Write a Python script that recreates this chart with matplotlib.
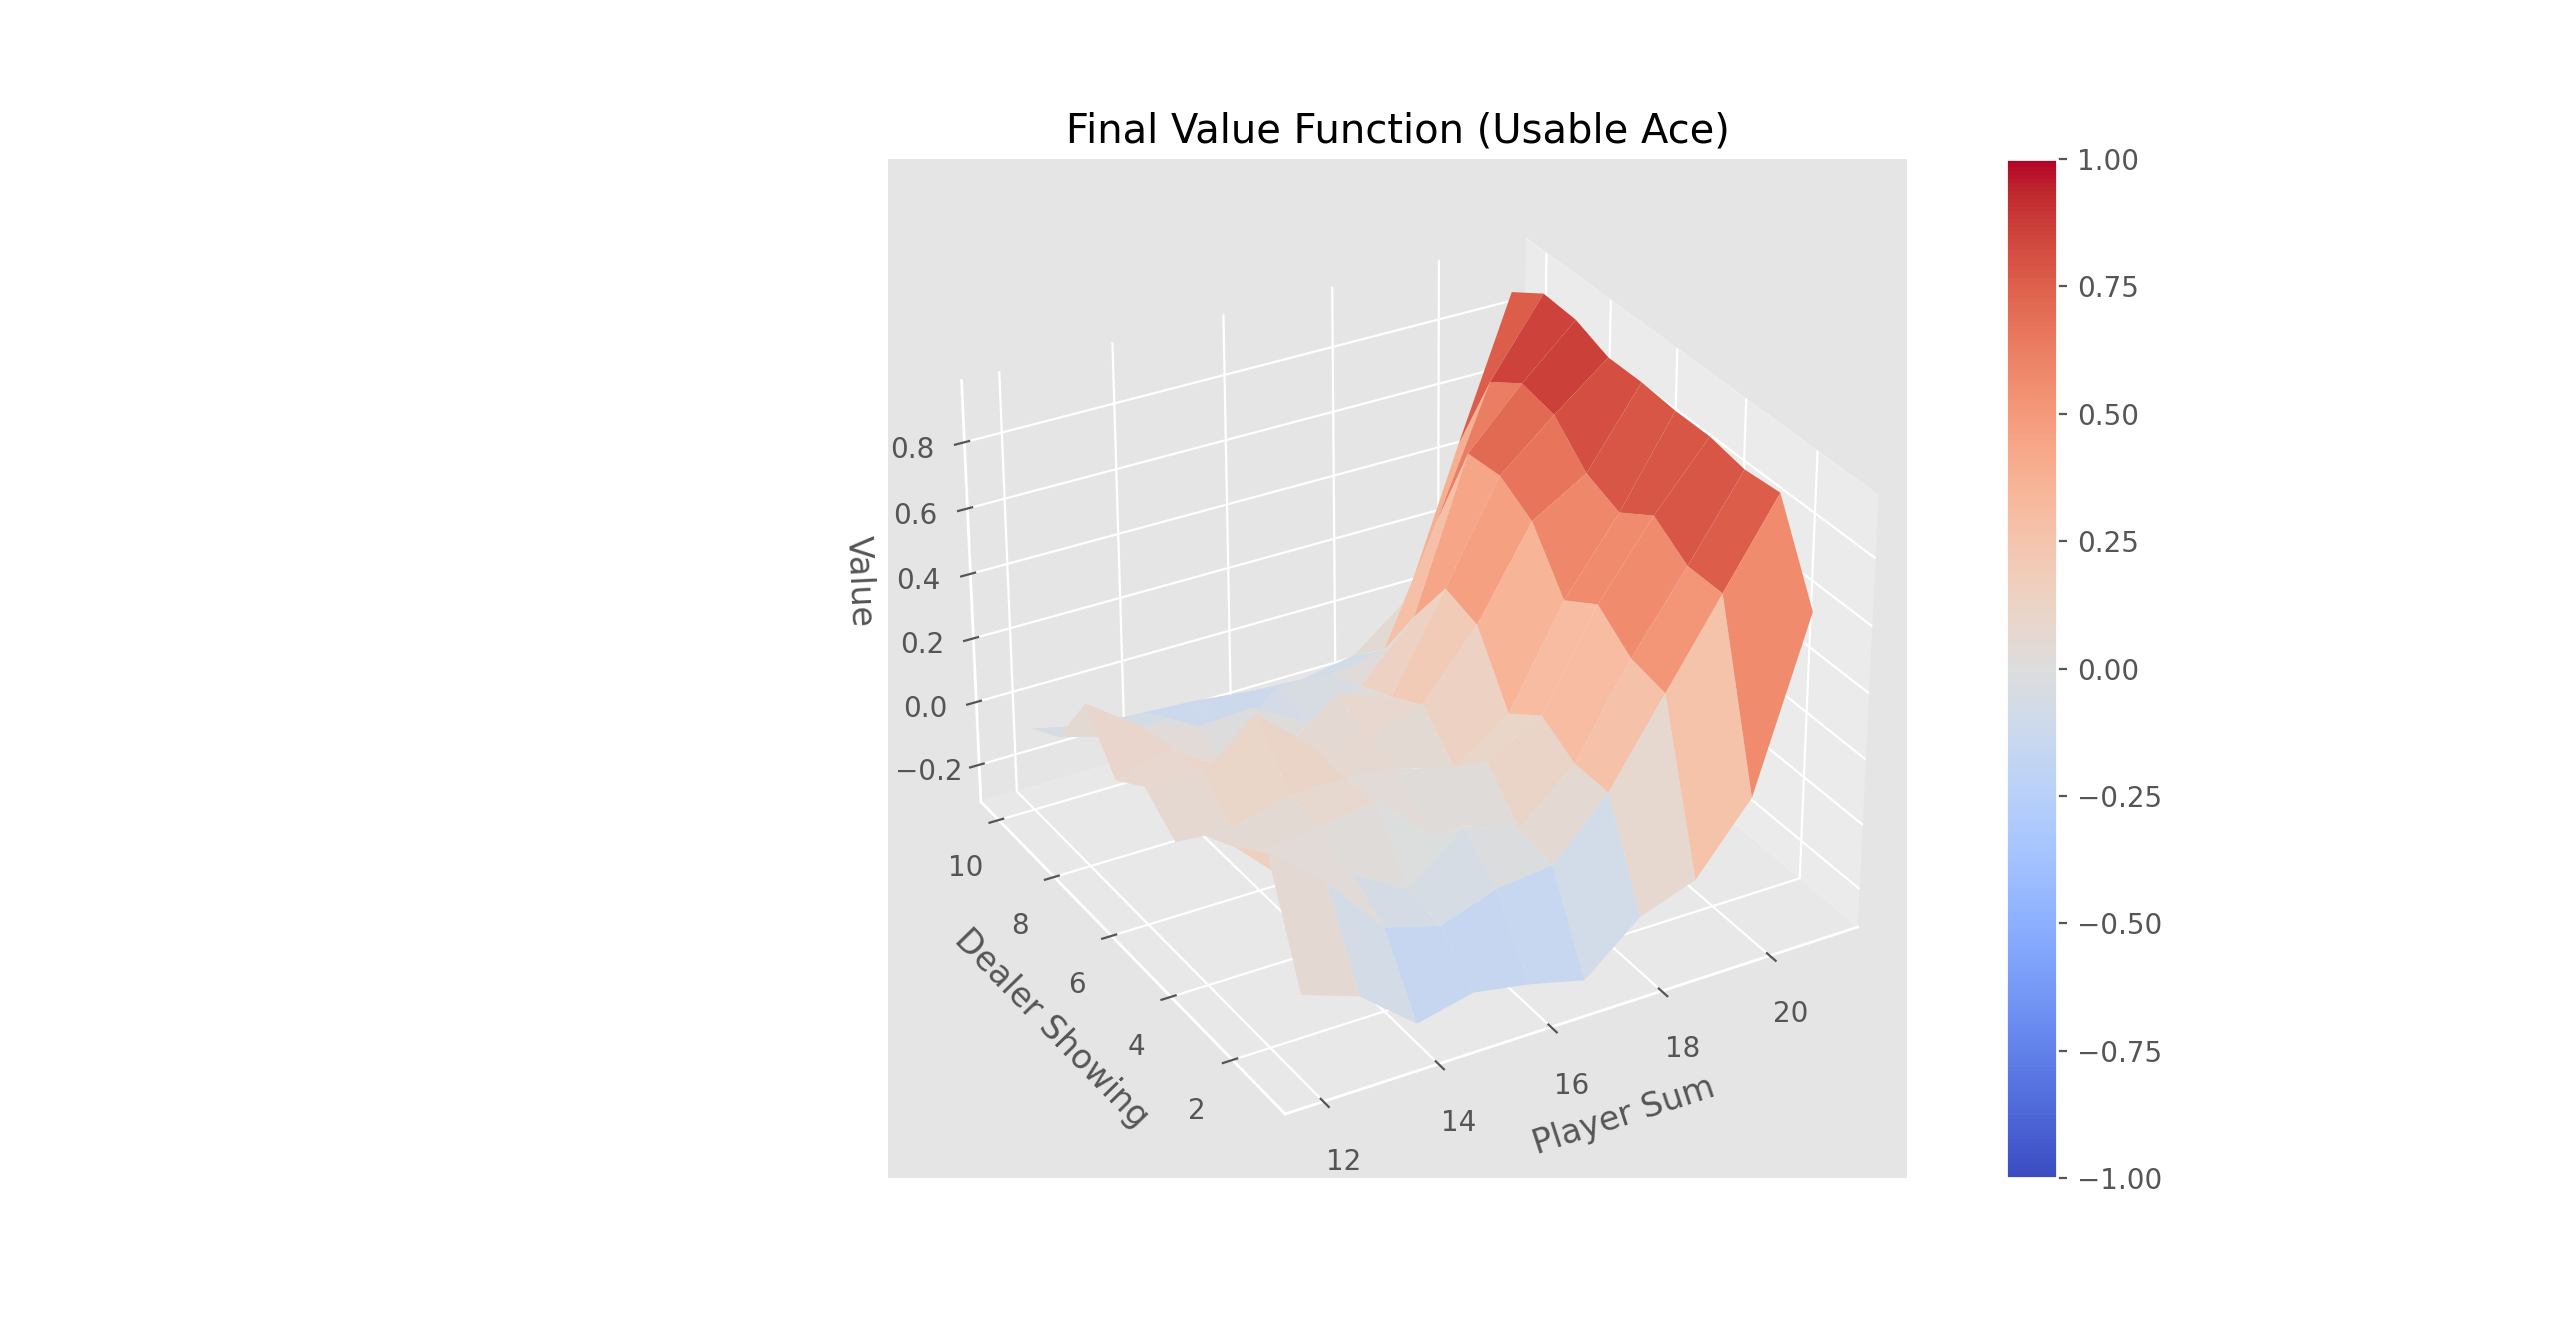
import numpy as np
import matplotlib
matplotlib.use("Agg")
import matplotlib.pyplot as plt
from mpl_toolkits.mplot3d import Axes3D

player_sum = list(range(12, 22))
dealer_showing = list(range(1, 11))
# value per dealer card (rows) and player sum (columns)
dealer_1 = [-0.06, -0.12, -0.26, -0.22, -0.25, -0.293, -0.15, -0.09, 0.11, 0.62]
dealer_2 = [0.27, 0.13, -0.06, -0.11, -0.05, -0.03, 0.14, 0.39, 0.64, 0.89]
dealer_3 = [0.195, 0.03, 0.01, -0.09, 0.05, -0.01, 0.14, 0.41, 0.64, 0.88]
dealer_4 = [0.14, 0.04, 0.06, 0.09, -0.07, 0.11, 0.20, 0.49, 0.71, 0.90]
dealer_5 = [0.03, 0.02, 0.07, 0.07, 0.05, 0.00, 0.12, 0.42, 0.64, 0.90]
dealer_6 = [0.11, 0.10, 0.23, 0.08, 0.05, 0.11, 0.31, 0.58, 0.68, 0.91]
dealer_7 = [0.04, 0.09, -0.03, -0.02, 0.11, 0.05, 0.34, 0.64, 0.78, 0.91]
dealer_8 = [0.19, 0.07, 0.02, 0.03, -0.07, 0.00, 0.17, 0.63, 0.80, 0.95]
dealer_9 = [0.00, -0.05, -0.04, -0.20, -0.04, -0.05, -0.02, 0.34, 0.73, 0.957]
dealer_10 = [-0.06, -0.10, -0.11, -0.12, -0.14, -0.15, -0.12, 0.01, 0.46, 0.89]

plt.style.use('ggplot')
Z = np.array([dealer_1, dealer_2, dealer_3, dealer_4, dealer_5,
              dealer_6, dealer_7, dealer_8, dealer_9, dealer_10])
X, Y = np.meshgrid(player_sum, dealer_showing)

fig = plt.figure(figsize=(12.8, 6.62), dpi=200)
ax = fig.add_subplot(111, projection='3d')
surf = ax.plot_surface(X, Y, Z, rstride=1, cstride=1,
                       cmap=matplotlib.cm.coolwarm, vmin=-1.0, vmax=1.0)
ax.set_xlabel('Player Sum')
ax.set_ylabel('Dealer Showing')
ax.set_zlabel('Value')
ax.set_title('Final Value Function (Usable Ace)')
ax.view_init(ax.elev, -120)
fig.colorbar(surf)
fig.savefig('out.png')
